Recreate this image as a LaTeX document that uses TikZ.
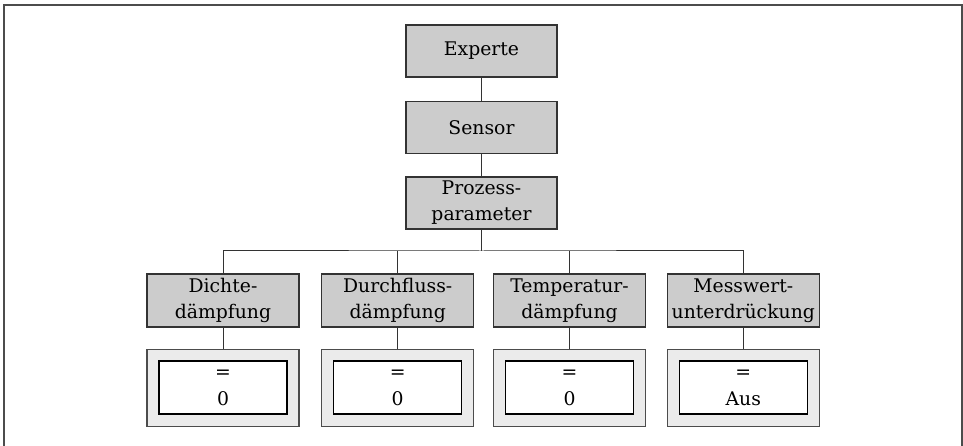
\documentclass[tikz,border=0pt]{standalone}
\usepackage{fontspec}
\setmainfont{DejaVu Serif}
\begin{document}
\begin{tikzpicture}[x=1bp,y=-1bp,
  menubox/.style={draw=black!80,line width=1.2bp,fill=black!20,minimum width=151bp,minimum height=52bp,inner sep=0pt,align=center,font=\fontsize{18.8bp}{26bp}\selectfont},
  valouter/.style={draw=black!70,line width=1.2bp,fill=black!8,minimum width=152bp,minimum height=77bp,inner sep=0pt},
  valinner/.style={draw=black,line width=1.2bp,fill=white,minimum width=128bp,minimum height=53bp,inner sep=0pt,align=center,font=\fontsize{18.8bp}{27bp}\selectfont},
  conn/.style={draw=black!80,line width=1bp}]
\useasboundingbox (0,0) rectangle (963,446);
\draw[draw=black!70,line width=2bp] (3.7,446) -- (3.7,5.5) -- (962.3,5.5) -- (962.3,446);
\node[menubox] (exp) at (481.5,51) {Experte};
\node[menubox] (sen) at (481.5,127.3) {Sensor};
\node[menubox] (pp) at (481.5,203) {Prozess-\\parameter};
\coordinate (bus) at (481.5,251);
\node[menubox,minimum width=152bp,minimum height=53bp] (d1) at (223,300.5) {Dichte-\\dämpfung};
\node[menubox,minimum width=152bp,minimum height=53bp] (d2) at (397.7,300.5) {Durchfluss-\\dämpfung};
\node[menubox,minimum width=152bp,minimum height=53bp] (d3) at (569.5,300.5) {Temperatur-\\dämpfung};
\node[menubox,minimum width=152bp,minimum height=53bp] (d4) at (743.3,300.5) {Messwert-\\unterdrückung};
\node[valouter] (v1o) at (223,387.7) {};
\node[valouter] (v2o) at (397.7,387.7) {};
\node[valouter] (v3o) at (569.5,387.7) {};
\node[valouter] (v4o) at (743.3,387.7) {};
\node[valinner] (v1) at (223,387.5) {=\\0};
\node[valinner] (v2) at (397.7,387.5) {=\\0};
\node[valinner] (v3) at (569.5,387.5) {=\\0};
\node[valinner] (v4) at (743.3,387.5) {=\\Aus};
\draw[conn] (exp) -- (sen);
\draw[conn] (sen) -- (pp);
\draw[conn] (pp) -- (bus);
\draw[conn] (d1.north) |- (bus) -| (d4.north);
\draw[conn] (d2.north) -- (d2.north |- bus);
\draw[conn] (d3.north) -- (d3.north |- bus);
\draw[conn] (d1) -- (v1o);
\draw[conn] (d2) -- (v2o);
\draw[conn] (d3) -- (v3o);
\draw[conn] (d4) -- (v4o);
\end{tikzpicture}
\end{document}
